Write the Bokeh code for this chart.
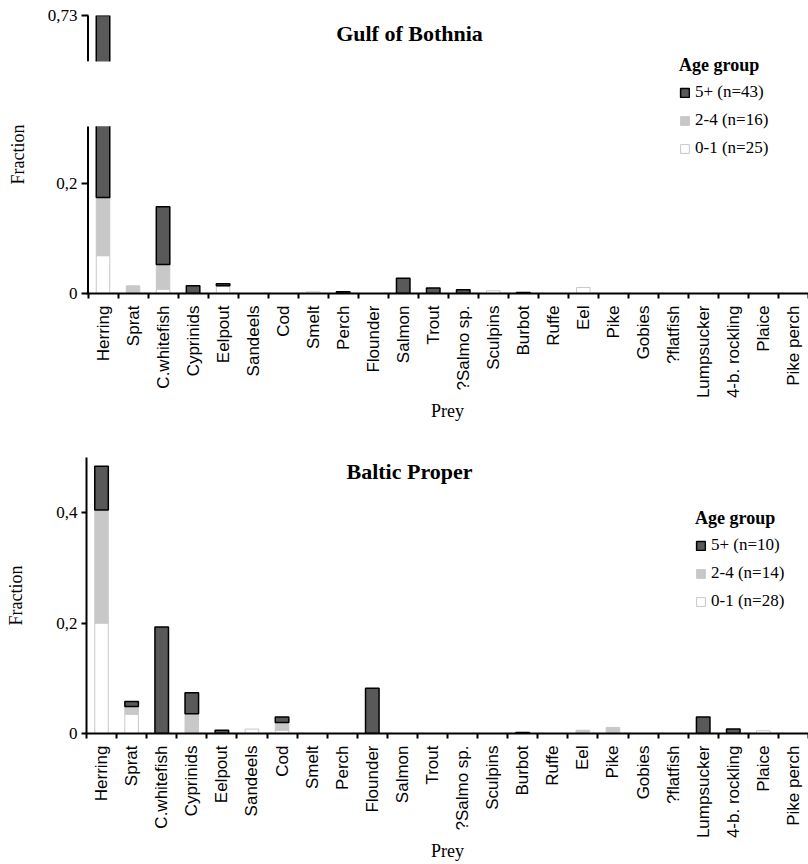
import math
from bokeh.plotting import figure
from bokeh.models import (ColumnDataSource, FixedTicker, CustomJSTickFormatter, Legend,
                          LegendItem, Label, BoxAnnotation, Range1d)
from bokeh.core.properties import value
from bokeh.layouts import column
from bokeh.embed import file_html
from bokeh.resources import INLINE

# ---------------- data ----------------
prey = ["Herring", "Sprat", "C.whitefish", "Cyprinids", "Eelpout", "Sandeels", "Cod",
        "Smelt", "Perch", "Flounder", "Salmon", "Trout", "?Salmo sp.", "Sculpins",
        "Burbot", "Ruffe", "Eel", "Pike", "Gobies", "?flatfish", "Lumpsucker",
        "4-b. rockling", "Plaice", "Pike perch"]

# Gulf of Bothnia
gob_age01 = [0.069, 0, 0.008, 0, 0.014, 0, 0, 0.003, 0, 0, 0, 0, 0, 0.005,
             0, 0, 0.011, 0, 0, 0, 0, 0, 0, 0]
gob_age24 = [0.106, 0.014, 0.045, 0, 0, 0, 0, 0, 0, 0, 0, 0, 0, 0,
             0, 0, 0, 0, 0, 0, 0, 0, 0, 0]
gob_age5 = [0.555, 0, 0.105, 0.014, 0.004, 0, 0, 0, 0.003, 0, 0.028, 0.010, 0.007, 0,
            0.002, 0, 0, 0, 0, 0, 0, 0, 0, 0]
gob_n = [43, 16, 25]          # 5+, 2-4, 0-1

# Baltic Proper
bp_age01 = [0.200, 0.035, 0, 0, 0, 0.008, 0.006, 0, 0, 0, 0, 0, 0, 0,
            0, 0, 0, 0, 0, 0, 0, 0, 0.005, 0]
bp_age24 = [0.205, 0.014, 0, 0.036, 0, 0, 0.014, 0, 0, 0, 0, 0, 0, 0,
            0, 0, 0.006, 0.011, 0, 0, 0, 0, 0, 0]
bp_age5 = [0.079, 0.009, 0.193, 0.038, 0.006, 0, 0.010, 0, 0, 0.082, 0, 0, 0, 0,
           0.002, 0, 0, 0, 0, 0, 0.030, 0.008, 0, 0]
bp_n = [10, 14, 28]

gob_yticks = [0, 0.2]
bp_yticks = [0, 0.2, 0.4]

# broken axis of the Gulf of Bothnia panel
LO_TOP = 0.305      # top of the lower segment
HI_BOTTOM = 0.646   # bottom of the upper segment
HI_TOP = 0.73       # top of the upper segment
GAP = 0.118         # visual gap (in lower-segment units)

# ---------------- style ----------------
DARK = "#595959"
LIGHT = "#c8c8c8"
WHITE = "#ffffff"
SERIF = "Liberation Serif"
SANS = "Liberation Sans"


def make_panel(title, a01, a24, a5, ns, height, x_start, y_end, yticks, formatter,
               border_left, border_top, border_bottom, ylabel_standoff, legend_loc,
               title_y):
    src = ColumnDataSource(dict(
        x=[i + 0.5 for i in range(len(prey))],
        a01=a01, a24=a24, a5=a5,
        la01=[1 if v > 0 else 0 for v in a01],
        la24=[1 if v > 0 else 0 for v in a24],
        la5=[1 if v > 0 else 0 for v in a5],
    ))
    p = figure(width=808, height=height, x_range=Range1d(x_start, len(prey)),
               y_range=Range1d(0, y_end), output_backend="svg",
               toolbar_location=None, tools="",
               min_border_left=border_left, min_border_right=0,
               min_border_top=border_top, min_border_bottom=border_bottom)
    p.outline_line_color = None
    p.xgrid.visible = False
    p.ygrid.visible = False
    p.background_fill_color = "white"
    p.border_fill_color = "white"

    rs = p.vbar_stack(["a01", "a24", "a5"], x="x", width=0.45, source=src,
                      fill_color=[WHITE, LIGHT, DARK],
                      line_color=[LIGHT, LIGHT, "black"],
                      line_width=[1, 1, 1.5],
                      line_alpha=["la01", "la24", "la5"])

    # y axis
    ya = p.yaxis[0]
    ya.ticker = FixedTicker(ticks=yticks, minor_ticks=[])
    ya.formatter = formatter
    ya.axis_line_width = 2
    ya.axis_line_color = "black"
    ya.major_tick_line_width = 2
    ya.major_tick_line_color = "black"
    ya.major_tick_out = 5
    ya.major_tick_in = 0
    ya.minor_tick_line_color = None
    ya.major_label_standoff = 4
    ya.major_label_text_font = SERIF
    ya.major_label_text_font_size = "17px"
    ya.major_label_text_color = "black"
    ya.axis_label = "Fraction"
    ya.axis_label_text_font = SERIF
    ya.axis_label_text_font_style = "normal"
    ya.axis_label_text_font_size = "18px"
    ya.axis_label_text_color = "black"
    ya.axis_label_standoff = ylabel_standoff

    # x axis: labels at bar centres, ticks between bars
    xa = p.xaxis[0]
    xa.ticker = FixedTicker(ticks=[i + 0.5 for i in range(len(prey))],
                            minor_ticks=list(range(len(prey) + 1)))
    xa.formatter = CustomJSTickFormatter(args=dict(names=prey), code="""
        const i = Math.floor(tick);
        return (i >= 0 && i < names.length) ? names[i] : '';
    """)
    xa.major_label_orientation = math.pi / 2
    xa.major_tick_line_color = None
    xa.major_tick_out = 0
    xa.major_tick_in = 0
    xa.minor_tick_line_color = "black"
    xa.minor_tick_line_width = 2
    xa.minor_tick_out = 5
    xa.minor_tick_in = 0
    xa.axis_line_width = 2
    xa.axis_line_color = "black"
    xa.major_label_standoff = 7
    xa.major_label_text_font = SANS
    xa.major_label_text_font_size = "17px"
    xa.major_label_text_color = "black"
    xa.axis_label = "Prey"
    xa.axis_label_text_font = SERIF
    xa.axis_label_text_font_style = "normal"
    xa.axis_label_text_font_size = "18px"
    xa.axis_label_text_color = "black"
    xa.axis_label_standoff = 0

    return p, rs


def add_title_legend(p, rs, title, ns, legend_loc, title_y):
    p.add_layout(Label(x=323, y=title_y, x_units="screen", y_units="screen",
                       text=title, text_font=SERIF, text_font_style="bold",
                       text_font_size="22px", text_align="center",
                       text_baseline="middle", text_color="black"))
    legend = Legend(
        items=[LegendItem(label=value(f"5+ (n={ns[0]})"), renderers=[rs[2]], index=0),
               LegendItem(label=value(f"2-4 (n={ns[1]})"), renderers=[rs[1]], index=0),
               LegendItem(label=value(f"0-1 (n={ns[2]})"), renderers=[rs[0]], index=0)],
        location=legend_loc, title="Age group",
        title_text_font=SERIF, title_text_font_style="bold", title_text_font_size="18px",
        title_text_color="black",
        label_text_font=SERIF, label_text_font_size="17px", label_text_color="black",
        glyph_width=11, glyph_height=11, label_height=20, label_standoff=5,
        spacing=8, padding=0, margin=0, title_standoff=6,
        border_line_color=None, background_fill_alpha=0)
    p.add_layout(legend)


# ---- Gulf of Bothnia (broken y axis) ----
lower_end = LO_TOP + GAP + (HI_TOP - HI_BOTTOM)
hi_start = lower_end - (HI_TOP - HI_BOTTOM)
shift = HI_TOP - lower_end
gob_fmt = CustomJSTickFormatter(args=dict(brk=LO_TOP, shift=shift), code="""
    let v = tick > brk ? tick + shift : tick;
    v = Math.round(v * 1000) / 1000;
    return String(v).replace('.', ',');
""")
p1, rs1 = make_panel("Gulf of Bothnia", gob_age01, gob_age24, gob_age5, gob_n,
                     height=424, x_start=-0.05, y_end=lower_end,
                     yticks=gob_yticks + [lower_end], formatter=gob_fmt,
                     border_left=85, border_top=15, border_bottom=131,
                     ylabel_standoff=17, legend_loc=(593, 135), title_y=260)
# broken axis: hide the continuous axis line, draw its two segments, blank the gap
p1.yaxis[0].axis_line_color = None
p1.yaxis[0].major_tick_in = 2
p1.segment(x0=[0, 0], x1=[0, 0], y0=[0, hi_start], y1=[LO_TOP, lower_end],
           line_color="black", line_width=2)
p1.add_layout(BoxAnnotation(bottom=LO_TOP, top=hi_start,
                            fill_color="white", fill_alpha=1.0, line_color=None,
                            level="annotation"))
add_title_legend(p1, rs1, "Gulf of Bothnia", gob_n, (593, 135), 260)

# ---- Baltic Proper ----
bp_fmt = CustomJSTickFormatter(code="""
    const v = Math.round(tick * 1000) / 1000;
    return String(v).replace('.', ',');
""")
p2, rs2 = make_panel("Baltic Proper", bp_age01, bp_age24, bp_age5, bp_n,
                     height=440, x_start=0, y_end=0.5, yticks=bp_yticks,
                     formatter=bp_fmt, border_left=86, border_top=33,
                     border_bottom=129, ylabel_standoff=27,
                     legend_loc=(609, 122), title_y=262)
add_title_legend(p2, rs2, "Baltic Proper", bp_n, (609, 122), 262)

layout = column(p1, p2)
open("out.html", "w").write(file_html(layout, INLINE))
